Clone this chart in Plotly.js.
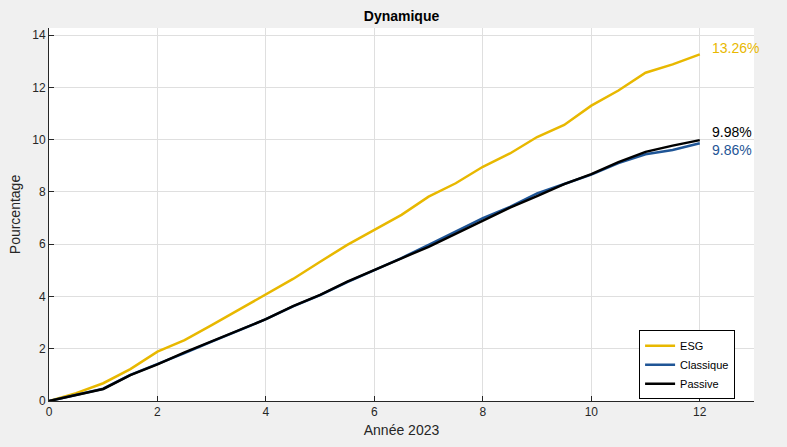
<!DOCTYPE html>
<html>
<head>
<meta charset="utf-8">
<script src="https://cdn.plot.ly/plotly-3.0.1.min.js"></script>
<style>html,body{margin:0;padding:0;background:#f0f0f0;}#chart{width:787px;height:447px;}</style>
</head>
<body>
<div id="chart"></div>
<script>
const months = [0,0.5,1,1.5,2,2.5,3,3.5,4,4.5,5,5.5,6,6.5,7,7.5,8,8.5,9,9.5,10,10.5,11,11.5,12];
const esg =       [0,0.30,0.68,1.22,1.89,2.33,2.90,3.48,4.08,4.67,5.33,5.97,6.55,7.12,7.82,8.33,8.96,9.47,10.10,10.56,11.30,11.88,12.56,12.88,13.26];
const classique = [0,0.25,0.47,1.00,1.40,1.83,2.27,2.71,3.13,3.62,4.05,4.55,5.00,5.47,5.97,6.50,7.00,7.43,7.94,8.30,8.66,9.10,9.44,9.60,9.86];
const passive =   [0,0.24,0.46,0.99,1.40,1.86,2.28,2.72,3.13,3.63,4.06,4.57,5.00,5.46,5.90,6.40,6.90,7.40,7.84,8.30,8.68,9.14,9.53,9.77,9.98];
const seriesNames = ['ESG','Classique','Passive'];
const labels = ['13.26%','9.86%','9.98%'];
const xTicks = [0,2,4,6,8,10,12];
const yTicks = [0,2,4,6,8,10,12,14];

const colors = ['#E8B800','#1F5596','#000000'];
const data = [esg, classique, passive].map((v,i)=>({
  x: months, y: v, type:'scatter', mode:'lines', name: seriesNames[i],
  line:{color:colors[i], width:2.5}
}));

const ann = [
  {x:12, y:esg[esg.length-1], text:labels[0], color:colors[0], ys:6},
  {x:12, y:classique[classique.length-1], text:labels[1], color:colors[1], ys:-7},
  {x:12, y:passive[passive.length-1], text:labels[2], color:colors[2], ys:8}
].map(a=>({x:a.x, y:a.y, xref:'x', yref:'y', text:a.text, showarrow:false,
  xanchor:'left', yanchor:'middle', xshift:10, yshift:a.ys,
  font:{family:'Liberation Sans, Arial, sans-serif', size:14, color:a.color}}));

const layout = {
  width:787, height:447,
  paper_bgcolor:'#f0f0f0', plot_bgcolor:'#ffffff',
  margin:{l:49, r:33, t:28, b:46},
  font:{family:'Liberation Sans, Arial, sans-serif', size:12, color:'#262626'},
  title:{text:'<b>Dynamique</b>', x:0.5, xref:'paper', yref:'container', y:0.964, yanchor:'middle',
    font:{size:14, color:'#000000'}},
  xaxis:{range:[0,13], tickvals:xTicks, ticks:'inside', ticklen:5, tickcolor:'#262626',
    showline:true, linecolor:'#262626', linewidth:1, showgrid:true, gridcolor:'#dfdfdf',
    zeroline:false, mirror:false, fixedrange:true,
    title:{text:'Année 2023', font:{size:14, color:'#262626'}, standoff:6}},
  yaxis:{range:[0,14.27], tickvals:yTicks, ticks:'inside', ticklen:5, tickcolor:'#262626',
    showline:true, linecolor:'#262626', linewidth:1, showgrid:true, gridcolor:'#dfdfdf',
    zeroline:false, mirror:false, fixedrange:true,
    title:{text:'Pourcentage', font:{size:14, color:'#262626'}, standoff:8}},
  legend:{x:0.837, y:0.19, xanchor:'left', yanchor:'top', bgcolor:'#ffffff',
    bordercolor:'#000000', borderwidth:1, font:{size:11, color:'#000000'},
    tracegroupgap:0, itemwidth:30},
  annotations: ann,
  showlegend:true
};
Plotly.newPlot('chart', data, layout, {displayModeBar:false, staticPlot:true});
</script>
</body>
</html>
